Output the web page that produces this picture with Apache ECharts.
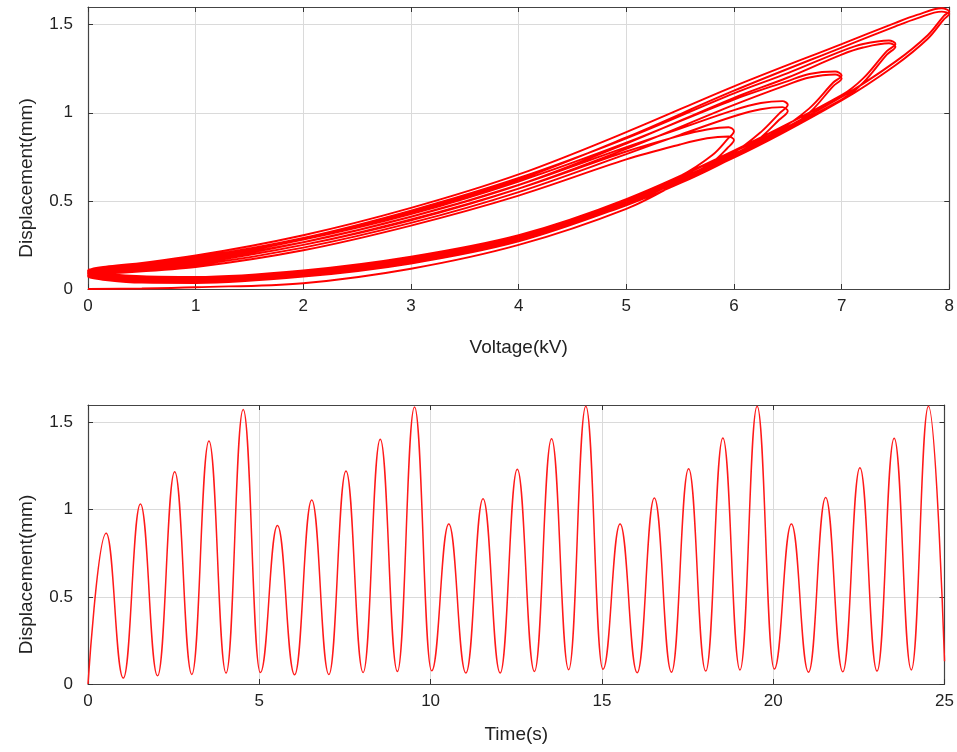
<!DOCTYPE html>
<html>
<head>
<meta charset="utf-8">
<title>Displacement response</title>
<script src="https://cdn.jsdelivr.net/npm/echarts@6/dist/echarts.min.js"></script>
<style>
  html, body { margin: 0; padding: 0; background: #fff; }
  #chart { width: 957px; height: 752px; }
</style>
</head>
<body>
<div id="chart"></div>
<script>
// Hysteresis cycles, [voltage (kV), displacement (mm)]: rising voltage up to the tip, then falling voltage.
// First pass of the five amplitudes (0-5 s)
const cycle6A = [[0,0],[0.5,0.003],[1,0.01],[2,0.033],[3,0.115],[4,0.25],[5,0.455],[5.5,0.61],[5.8,0.72],[5.94,0.8],[6,0.845],
                 [5.95,0.865],[5.75,0.855],[5.5,0.82],[5,0.735],[4,0.53],[3,0.36],[2,0.22],[1,0.125],[0,0.07]];
const cycle65A = [[0.5,0.036],[1,0.034],[2,0.07],[3,0.145],[4,0.27],[5,0.475],[5.5,0.6],[6,0.75],[6.25,0.86],[6.42,0.96],[6.5,1.01],
                  [6.45,1.032],[6.25,1.02],[6,0.98],[5.5,0.875],[5,0.765],[4,0.55],[3,0.375],[2,0.235],[1,0.135],[0,0.075]];
const cycle7A = [[0.5,0.045],[1,0.042],[2,0.078],[3,0.152],[4,0.277],[5,0.482],[6,0.755],[6.4,0.87],[6.7,1.0],[6.92,1.15],[7,1.195],
                 [6.94,1.217],[6.7,1.2],[6.5,1.16],[6,1.045],[5,0.795],[4,0.57],[3,0.39],[2,0.25],[1,0.145],[0,0.08]];
const cycle75A = [[0.5,0.052],[1,0.048],[2,0.085],[3,0.16],[4,0.283],[5,0.49],[6,0.76],[7,1.075],[7.2,1.17],[7.42,1.33],[7.5,1.375],
                  [7.44,1.394],[7.2,1.37],[7,1.33],[6.5,1.2],[6,1.085],[5,0.825],[4,0.59],[3,0.41],[2,0.265],[1,0.155],[0,0.085]];
const cycle8A = [[0.5,0.058],[1,0.053],[2,0.09],[3,0.165],[4,0.285],[5,0.49],[6,0.745],[7,1.07],[7.5,1.27],[7.8,1.42],[7.95,1.53],[8,1.56],
                 [7.93,1.574],[7.7,1.535],[7.5,1.49],[7,1.37],[6,1.125],[5,0.86],[4,0.62],[3,0.435],[2,0.28],[1,0.165],[0,0.09]];
// Later passes (5-25 s), slightly drifted upwards
const cycle6B = [[0.5,0.062],[1,0.058],[2,0.095],[3,0.172],[4,0.295],[5,0.5],[5.5,0.64],[5.8,0.76],[5.94,0.85],[6,0.895],
                 [5.95,0.918],[5.75,0.905],[5.5,0.87],[5,0.78],[4,0.57],[3,0.395],[2,0.25],[1,0.15],[0,0.09]];
const cycle65B = [[0.5,0.058],[1,0.055],[2,0.093],[3,0.17],[4,0.295],[5,0.5],[5.5,0.625],[6,0.775],[6.25,0.89],[6.42,0.995],[6.5,1.045],
                  [6.45,1.066],[6.25,1.055],[6,1.015],[5.5,0.91],[5,0.805],[4,0.59],[3,0.41],[2,0.265],[1,0.16],[0,0.095]];
const cycle7B = [[0.5,0.063],[1,0.06],[2,0.098],[3,0.176],[4,0.3],[5,0.505],[6,0.78],[6.4,0.895],[6.7,1.025],[6.92,1.17],[7,1.212],
                 [6.94,1.234],[6.7,1.22],[6.5,1.18],[6,1.075],[5,0.83],[4,0.61],[3,0.425],[2,0.28],[1,0.17],[0,0.1]];
const cycle75B = [[0.5,0.068],[1,0.065],[2,0.103],[3,0.18],[4,0.305],[5,0.51],[6,0.785],[7,1.1],[7.2,1.195],[7.42,1.35],[7.5,1.39],
                  [7.44,1.41],[7.2,1.39],[7,1.35],[6.5,1.225],[6,1.11],[5,0.855],[4,0.63],[3,0.445],[2,0.29],[1,0.18],[0,0.105]];
const cycle8B = [[0.5,0.072],[1,0.068],[2,0.105],[3,0.183],[4,0.305],[5,0.505],[6,0.765],[7,1.09],[7.5,1.29],[7.8,1.44],[7.95,1.55],[8,1.575],
                 [7.93,1.593],[7.7,1.555],[7.5,1.51],[7,1.39],[6,1.15],[5,0.89],[4,0.65],[3,0.46],[2,0.305],[1,0.19],[0,0.11]];

// Time history: start, then alternating peaks and troughs of displacement
const timeS = [0, 0.53, 1.03, 1.53, 2.03, 2.53, 3.03, 3.53, 4.03, 4.53,
               5.03, 5.53, 6.03, 6.53, 7.03, 7.53, 8.03, 8.53, 9.03, 9.53,
               10.03, 10.53, 11.03, 11.53, 12.03, 12.53, 13.03, 13.53, 14.03, 14.53,
               15.03, 15.53, 16.03, 16.53, 17.03, 17.53, 18.03, 18.53, 19.03, 19.53,
               20.03, 20.53, 21.03, 21.53, 22.03, 22.53, 23.03, 23.53, 24.03, 24.53, 25];
const dispMM = [0, 0.865, 0.034, 1.032, 0.047, 1.217, 0.055, 1.394, 0.063, 1.574,
                0.066, 0.909, 0.053, 1.055, 0.055, 1.222, 0.066, 1.403, 0.072, 1.589,
                0.076, 0.918, 0.063, 1.062, 0.063, 1.232, 0.072, 1.407, 0.082, 1.593,
                0.085, 0.918, 0.065, 1.066, 0.068, 1.234, 0.074, 1.411, 0.08, 1.593,
                0.086, 0.918, 0.068, 1.07, 0.07, 1.24, 0.074, 1.41, 0.081, 1.593, 0.13];

const voltageName = 'Voltage(kV)';
const timeName = 'Time(s)';
const dispName = 'Displacement(mm)';

const loopPath = [].concat(cycle6A, cycle65A, cycle7A, cycle75A, cycle8A,
                           cycle6B, cycle65B, cycle7B, cycle75B, cycle8B);
const timePath = timeS.map((t, i) => [t, dispMM[i]]);

const FONT = '"Liberation Sans", Arial, sans-serif';
const frameLine = { show: true, onZero: false, lineStyle: { color: '#444', width: 1.2 } };
const tickIn = { show: true, inside: true, length: 5, lineStyle: { color: '#333', width: 1 } };
const gridLine = { show: true, lineStyle: { color: '#dadada', width: 1 } };
const tickLabel = { color: '#222', fontSize: 17, fontFamily: FONT };
const nameStyle = { color: '#222', fontSize: 19, fontFamily: FONT };

function xAxes(gridIndex, max, interval, name, nameGap) {
  return [
    { type: 'value', gridIndex, min: 0, max, interval, position: 'bottom',
      name, nameLocation: 'middle', nameGap, nameTextStyle: nameStyle,
      axisLine: frameLine, axisTick: tickIn, splitLine: gridLine,
      axisLabel: Object.assign({ margin: 9 }, tickLabel) },
    { type: 'value', gridIndex, min: 0, max, interval, position: 'top',
      axisLine: frameLine, axisTick: tickIn, splitLine: { show: false },
      axisLabel: { show: false } }
  ];
}
function yAxes(gridIndex) {
  return [
    { type: 'value', gridIndex, min: 0, max: 1.6, interval: 0.5, position: 'left',
      name: dispName, nameLocation: 'middle', nameGap: 52,
      nameTextStyle: Object.assign({ padding: [0, 60, 0, 0] }, nameStyle),
      axisLine: frameLine, axisTick: tickIn, splitLine: gridLine,
      axisLabel: Object.assign({ margin: 15, showMaxLabel: false }, tickLabel) },
    { type: 'value', gridIndex, min: 0, max: 1.6, interval: 0.5, position: 'right',
      axisLine: frameLine, axisTick: tickIn, splitLine: { show: false },
      axisLabel: { show: false } }
  ];
}

const chart = echarts.init(document.getElementById('chart'), null, { renderer: 'canvas' });
chart.setOption({
  backgroundColor: '#fff',
  animation: false,
  grid: [
    { left: 88, right: 6, top: 7, height: 282 },
    { left: 88, right: 6, top: 405, height: 279 }
  ],
  xAxis: [].concat(xAxes(0, 8, 1, voltageName, 49), xAxes(1, 25, 5, timeName, 41)),
  yAxis: [].concat(yAxes(0), yAxes(1)),
  series: [
    { type: 'line', xAxisIndex: 0, yAxisIndex: 0, data: loopPath,
      smooth: 0.35, showSymbol: false, clip: true,
      lineStyle: { color: '#ff0000', width: 1.9 } },
    { type: 'line', xAxisIndex: 2, yAxisIndex: 2, data: timePath,
      smooth: 0.45, smoothMonotone: 'x', showSymbol: false, clip: true,
      lineStyle: { color: '#ff1a1a', width: 1.5 } }
  ]
});
</script>
</body>
</html>
